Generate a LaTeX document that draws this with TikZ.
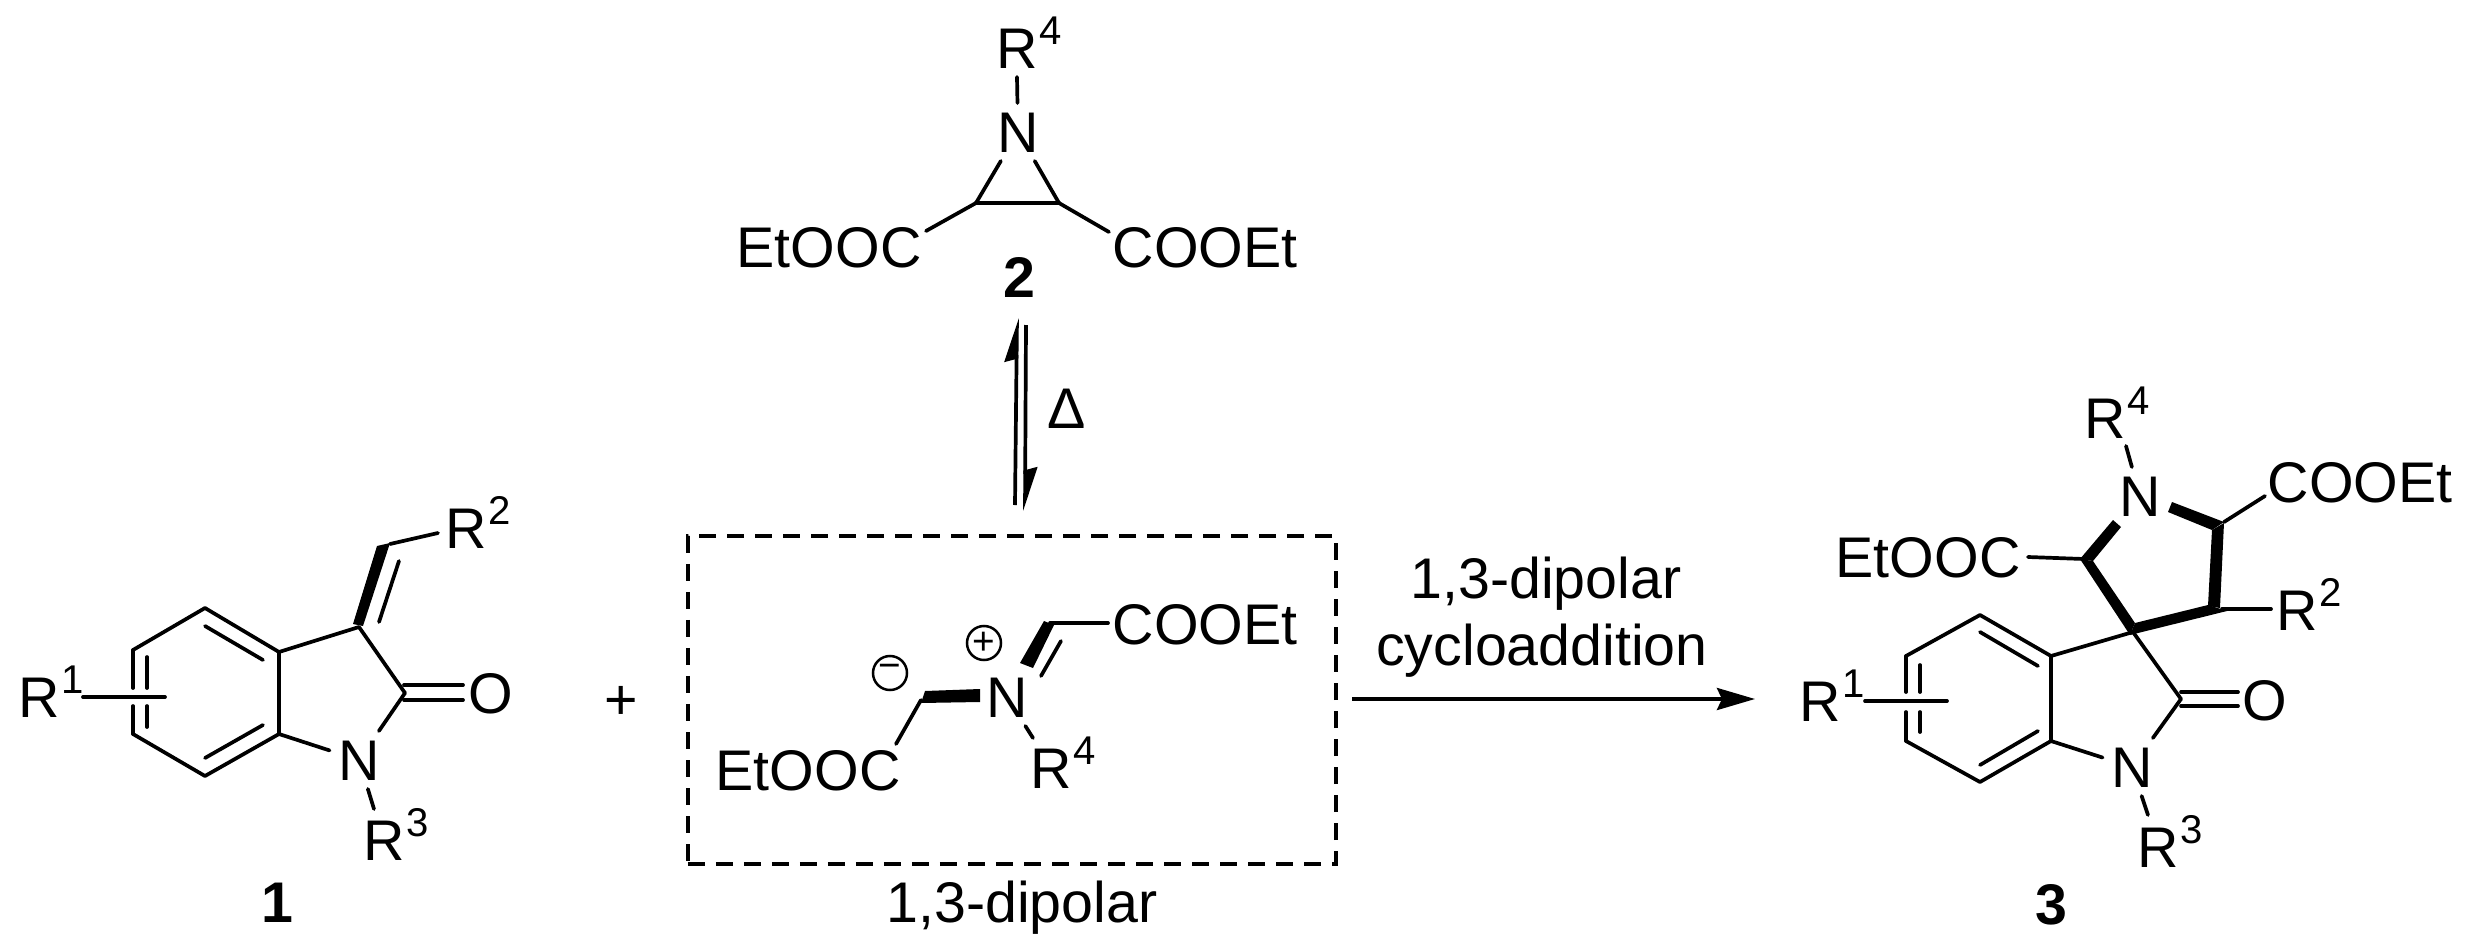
\documentclass[tikz,border=0pt]{standalone}
\usepackage{fontspec}
\setmainfont{Liberation Sans}
\usetikzlibrary{arrows.meta}
\newcommand{\Rgroup}[1]{R\raisebox{.42em}{\kern.02em\fontsize{.7em}{1em}\selectfont #1}}
\tikzset{
  bond/.style={line width=.037cm, line cap=round, line join=round},
  atom/.style={font=\fontsize{16.3}{18}\selectfont, text height=.405cm, text depth=0pt, inner sep=.08cm},
  group/.style={atom, inner sep=0pt, anchor=west},
  tag/.style={atom, font=\fontsize{16.3}{18}\selectfont\bfseries},
  charge/.style={circle, draw, line width=.025cm, minimum size=.34cm, inner sep=0pt, font=\fontsize{11}{11}\selectfont},
}
\begin{document}
\begin{tikzpicture}[x=.01cm, y=-.01cm]
\useasboundingbox (0,0) rectangle (2474,951);

% compound 1
\coordinate (a1) at (205,608);
\coordinate (a2) at (279,652);
\coordinate (a3) at (279,734);
\coordinate (a4) at (205,776);
\coordinate (a5) at (133,734);
\coordinate (a6) at (133,650);
\coordinate (a7) at (359,627);
\coordinate (a8) at (405,693);
\coordinate (a9) at (390,544);
\node[atom] (aN) at (359,760) {N};
\node[atom] (aO) at (491,693) {O};
\node[group] (aRone) at (18,697) {\Rgroup{1}};
\node[group] (aRtwo) at (445,528) {\Rgroup{2}};
\node[group] (aRthree) at (363,840) {\Rgroup{3}};
\node[tag] (aLabel) at (277,902) {1};
\coordinate (aRoneEnd) at (83,697);
\coordinate (aRoneTip) at (165,697);
\coordinate (aRtwoEnd) at (438,533);
\coordinate (aRthreeEnd) at (374,809);
\draw[bond] (a6) -- (a1) -- (a2) -- (a3) -- (a4) -- (a5);
\draw[bond] (a6) -- (133,688) (133,706) -- (a5);
\draw[bond] (147,657) -- (147,688) (147,706) -- (147,727);
\draw[bond] (205,626) -- (263,660) (205,758) -- (263,725);
\draw[bond] (a2) -- (a7) -- (a8);
\draw[bond] (aRoneEnd) -- (aRoneTip);
\draw[bond] (a8) -- (aN);
\draw[bond] (a3) -- (aN);
\draw[bond] (aN) -- (aRthreeEnd);
\draw[bond] (404,685) -- (463,685) (404,700) -- (463,700);
\fill (353,624) -- (377,546) -- (390,543) -- (363,626) -- cycle;
\draw[bond] (a9) -- (aRtwoEnd);
\draw[bond] (399,561) -- (379,622);

\node[atom] (plus) at (621,699) {+};

% compound 2
\coordinate (b1) at (976,203);
\coordinate (b2) at (1059,203);
\node[atom] (bN) at (1018,132) {N};
\node[group] (bRfour) at (996,48) {\Rgroup{4}};
\node[group] (bEster) at (736,247) {EtOOC};
\node[group] (bCoo) at (1112,247) {COOEt};
\node[tag] (bLabel) at (1019,277) {2};
\coordinate (bRfourEnd) at (1017,77);
\coordinate (bEsterEnd) at (926,231);
\coordinate (bCooEnd) at (1109,232);
\draw[bond] (b1) -- (b2);
\draw[bond] (b1) -- (bN);
\draw[bond] (b2) -- (bN);
\draw[bond] (bN) -- (bRfourEnd);
\draw[bond] (b1) -- (bEsterEnd);
\draw[bond] (b2) -- (bCooEnd);

% equilibrium
\coordinate (eqA) at (1015,505);
\coordinate (eqB) at (1017,318);
\coordinate (eqC) at (1026,325);
\coordinate (eqD) at (1025,511);
\draw[line width=.037cm, -{Stealth[harpoon,length=.38cm,width=.24cm,inset=.03cm]}] (eqA) -- (eqB);
\draw[line width=.037cm, -{Stealth[harpoon,length=.38cm,width=.24cm,inset=.03cm]}] (eqC) -- (eqD);
\node[atom] (delta) at (1067,408) {Δ};

% 1,3-dipole
\node[draw, line width=.04cm, dash pattern=on .17cm off .11cm, minimum width=6.48cm, minimum height=3.28cm, inner sep=0pt] (dipole) at (1012,700) {};
\node[atom] (label) at (1022,902) {1,3-dipolar};
\coordinate (c1) at (921,700);
\coordinate (c2) at (1050,623);
\node[atom] (cN) at (1007,697) {N};
\node[group] (cCoo) at (1112,624) {COOEt};
\node[group] (cEster) at (715,770) {EtOOC};
\node[group] (cRfour) at (1030,768) {\Rgroup{4}};
\coordinate (cCooEnd) at (1108,623);
\coordinate (cEsterEnd) at (896,744);
\coordinate (cRfourEnd) at (1033,738);
\fill (980,689) -- (980,702) -- (921,703) -- (925,691) -- cycle;
\fill (1020,663) -- (1033,668) -- (1054,625) -- (1044,621) -- cycle;
\draw[bond] (c2) -- (cCooEnd);
\draw[bond] (c1) -- (cEsterEnd);
\draw[bond] (cN) -- (cRfourEnd);
\draw[bond] (1061,641) -- (1041,676);
\node[charge] (cMinus) at (890,673) {\raisebox{.2ex}{−}};
\node[charge] (cPlus) at (984,643) {+};

% reaction arrow
\coordinate (arrowStart) at (1352,699);
\coordinate (arrowEnd) at (1755,699);
\draw[line width=.037cm, -{Stealth[length=.38cm,width=.22cm,inset=.05cm]}] (arrowStart) -- (arrowEnd);
\node[atom] (textA) at (1546,578) {1,3-dipolar};
\node[atom] (textB) at (1542,645) {cycloaddition};

% compound 3
\coordinate (d1) at (1980,615);
\coordinate (d2) at (2051,656);
\coordinate (d3) at (2051,741);
\coordinate (d4) at (1980,782);
\coordinate (d5) at (1906,741);
\coordinate (d6) at (1906,656);
\coordinate (d7) at (2133,632);
\coordinate (d8) at (2181,699);
\coordinate (d9) at (2084,559);
\coordinate (d10) at (2224,522);
\coordinate (d11) at (2222,609);
\node[atom] (dN) at (2132,767) {N};
\node[atom] (dO) at (2265,700) {O};
\node[atom] (dNtop) at (2140,496) {N};
\node[group] (dRone) at (1799,701) {\Rgroup{1}};
\node[group] (dRtwo) at (2276,610) {\Rgroup{2}};
\node[group] (dRthree) at (2137,847) {\Rgroup{3}};
\node[group] (dRfour) at (2084,418) {\Rgroup{4}};
\node[group] (dEster) at (1835,557) {EtOOC};
\node[group] (dCoo) at (2267,482) {COOEt};
\node[tag] (dLabel) at (2051,904) {3};
\coordinate (dRoneEnd) at (1865,701);
\coordinate (dRoneTip) at (1947,701);
\coordinate (dRtwoEnd) at (2271,609);
\coordinate (dRthreeEnd) at (2148,815);
\coordinate (dRfourEnd) at (2126,446);
\coordinate (dEsterEnd) at (2028,557);
\coordinate (dCooEnd) at (2265,496);
\draw[bond] (d6) -- (d1) -- (d2) -- (d3) -- (d4) -- (d5);
\draw[bond] (d6) -- (1906,692) (1906,712) -- (d5);
\draw[bond] (1920,665) -- (1920,692) (1920,712) -- (1920,732);
\draw[bond] (1980,632) -- (2038,666) (1980,765) -- (2038,731);
\draw[bond] (d2) -- (d7) -- (d8);
\draw[bond] (dRoneEnd) -- (dRoneTip);
\draw[bond] (d8) -- (dN);
\draw[bond] (d3) -- (dN);
\draw[bond] (dN) -- (dRthreeEnd);
\draw[bond] (2181,692) -- (2238,692) (2181,706) -- (2238,706);
\draw[bond] (dNtop) -- (dRfourEnd);
\draw[bond] (d9) -- (dEsterEnd);
\draw[bond] (d10) -- (dCooEnd);
\draw[bond] (d11) -- (dRtwoEnd);
\fill (2080,559) -- (2113,520) -- (2121,527) -- (2093,561) -- cycle;
\fill (2080,559) -- (2093,561) -- (2135,623) -- (2130,635) -- cycle;
\fill (2130,635) -- (2135,623) -- (2208,605) -- (2227,611) -- cycle;
\fill (2208,606) -- (2212,530) -- (2224,523) -- (2220,608) -- cycle;
\fill (2224,522) -- (2172,502) -- (2168,512) -- (2212,530) -- cycle;
\end{tikzpicture}
\end{document}
